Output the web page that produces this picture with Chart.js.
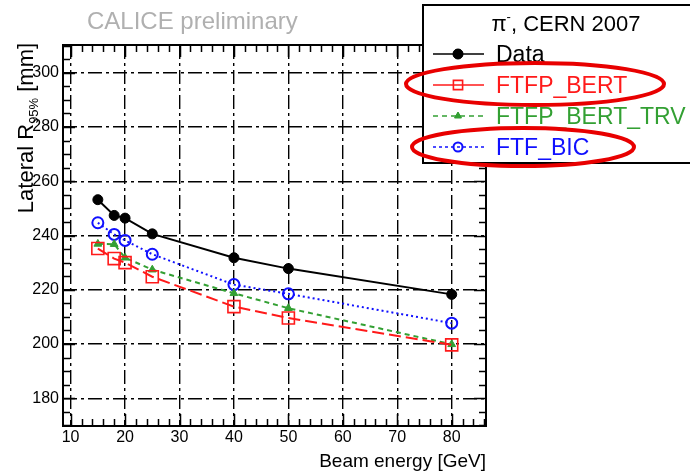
<!DOCTYPE html>
<html>
<head>
<meta charset="utf-8">
<script src="https://cdn.jsdelivr.net/npm/chart.js@4"></script>
<style>
    html, body { margin: 0; padding: 0; background: #fff; }
    #wrap { width: 690px; height: 472px; }
</style>
</head>
<body>
<div id="wrap"><canvas id="c" width="690" height="472"></canvas></div>
<script>
// Beam energies (GeV) and lateral R95% (mm) per sample
const energies = [15, 18, 20, 25, 40, 50, 80];
const dataVals = [253.2, 247.4, 246.4, 240.6, 231.8, 227.8, 218.3];
const ftfpBert = [235.2, 231.5, 230.0, 224.8, 213.8, 209.6, 199.7];
const ftfpBertTrv = [236.9, 236.8, 231.8, 227.4, 218.7, 213.2, 199.9];
const ftfBic = [244.7, 240.4, 238.2, 233.1, 221.9, 218.5, 207.7];

const seriesNames = ['Data', 'FTFP_BERT', 'FTFP_BERT_TRV', 'FTF_BIC'];
const xTicks = [10, 20, 30, 40, 50, 60, 70, 80];
const yTicks = [180, 200, 220, 240, 260, 280, 300];

const SANS = "'Liberation Sans', Arial, Helvetica, sans-serif";

function pts(vals) {
    return energies.map((e, i) => ({ x: e, y: vals[i] }));
}

// frame, inward ticks on all four sides, labels and legend box (ROOT look)
const rootFrame = {
    id: 'rootFrame',
    afterDatasetsDraw(chart) {
        const { ctx, chartArea: a, scales: { x, y } } = chart;
        ctx.save();
        ctx.strokeStyle = '#000';
        ctx.lineWidth = 1.5;
        ctx.beginPath();
        // x ticks every 2, longer on the 10s
        for (let v = 10; v <= x.max; v += 2) {
            const px = Math.round(x.getPixelForValue(v)) + 0.5;
            const len = v % 10 === 0 ? 12 : 7;
            ctx.moveTo(px, a.bottom); ctx.lineTo(px, a.bottom - len);
            ctx.moveTo(px, a.top); ctx.lineTo(px, a.top + len);
        }
        for (let v = 170; v <= y.max; v += 5) {
            const py = Math.round(y.getPixelForValue(v)) + 0.5;
            const len = v % 20 === 0 ? 12 : 7;
            ctx.moveTo(a.left, py); ctx.lineTo(a.left + len, py);
            ctx.moveTo(a.right, py); ctx.lineTo(a.right - len, py);
        }
        ctx.stroke();
        ctx.lineWidth = 2;
        ctx.strokeRect(a.left, a.top, a.right - a.left, a.bottom - a.top);

        // titles
        ctx.fillStyle = '#b0b0b0';
        ctx.font = '24px ' + SANS;
        ctx.textBaseline = 'alphabetic';
        ctx.textAlign = 'left';
        ctx.fillText('CALICE preliminary', 87, 29);

        ctx.fillStyle = '#000';
        ctx.font = '19px ' + SANS;
        ctx.textAlign = 'right';
        ctx.fillText('Beam energy [GeV]', a.right, 467);

        // y title with subscript
        ctx.save();
        ctx.translate(33, 128);
        ctx.rotate(-Math.PI / 2);
        const big = '22px ' + SANS, small = '13px ' + SANS;
        ctx.font = big;
        const w1 = ctx.measureText('Lateral R').width;
        const w3 = ctx.measureText(' [mm]').width;
        ctx.font = small;
        const w2 = ctx.measureText('95%').width;
        let tx = -(w1 + w2 + w3) / 2;
        ctx.textAlign = 'left';
        ctx.font = big; ctx.fillText('Lateral R', tx, 0); tx += w1;
        ctx.font = small; ctx.fillText('95%', tx, 5); tx += w2;
        ctx.font = big; ctx.fillText(' [mm]', tx, 0);
        ctx.restore();

        // legend box
        const bx = 423, by = 5, bw = 290, bh = 158;
        ctx.fillStyle = '#fff';
        ctx.fillRect(bx, by, bw, bh);
        ctx.lineWidth = 2;
        ctx.strokeRect(bx, by, bw, bh);

        ctx.fillStyle = '#000';
        ctx.textAlign = 'left';
        ctx.font = '22px ' + SANS;
        const tW = ctx.measureText('\u03c0').width;
        ctx.font = '13px ' + SANS;
        const sW = ctx.measureText('-').width;
        ctx.font = '22px ' + SANS;
        const rest = ', CERN 2007';
        const rW = ctx.measureText(rest).width;
        let lx = 566 - (tW + sW + rW) / 2;
        ctx.fillText('\u03c0', lx, 31); lx += tW;
        ctx.font = '13px ' + SANS; ctx.fillText('-', lx, 21); lx += sW;
        ctx.font = '22px ' + SANS; ctx.fillText(rest, lx, 31);

        const rows = [54, 85, 116, 147];
        chart.data.datasets.forEach((ds, i) => {
            const ly = rows[i];
            ctx.save();
            ctx.strokeStyle = ds.borderColor;
            ctx.lineWidth = 1.5;
            ctx.setLineDash(ds.legendDash || []);
            ctx.beginPath();
            ctx.moveTo(433, ly); ctx.lineTo(484, ly);
            ctx.stroke();
            ctx.setLineDash([]);
            ctx.lineWidth = ds.pointBorderWidth;
            ctx.fillStyle = ds.pointBackgroundColor;
            Chart.helpers.drawPoint(ctx, {
                pointStyle: ds.pointStyle, radius: ds.legendRadius, borderWidth: ds.pointBorderWidth
            }, 458, ly);
            if (ds.pointBackgroundColor !== 'rgba(0,0,0,0)') ctx.fill();
            ctx.restore();
            ctx.fillStyle = ds.borderColor;
            ctx.font = '23px ' + SANS;
            ctx.fillText(ds.label, 496, ly + 8);
        });

        // red highlight ellipses
        ctx.strokeStyle = '#e80000';
        ctx.lineWidth = 4;
        ctx.beginPath();
        ctx.ellipse(535, 84, 129, 21, 0, 0, Math.PI * 2);
        ctx.stroke();
        ctx.beginPath();
        ctx.ellipse(523, 147, 111, 19, 0, 0, Math.PI * 2);
        ctx.stroke();
        ctx.restore();
    }
};

new Chart(document.getElementById('c'), {
    type: 'scatter',
    data: {
        datasets: [
            {
                label: seriesNames[0],
                data: pts(dataVals),
                showLine: true,
                borderColor: '#000000',
                borderWidth: 2,
                pointStyle: 'circle',
                pointRadius: 5,
                legendRadius: 5,
                pointBackgroundColor: '#000000',
                pointBorderWidth: 1,
                order: 0
            },
            {
                label: seriesNames[1],
                data: pts(ftfpBert),
                showLine: true,
                borderColor: '#ff1a1a',
                borderWidth: 2,
                borderDash: [12, 5],
                pointStyle: 'rect',
                pointRadius: 8.5,
                legendRadius: 6.5,
                pointBackgroundColor: 'rgba(0,0,0,0)',
                pointBorderWidth: 1.6,
                order: 1
            },
            {
                label: seriesNames[2],
                data: pts(ftfpBertTrv),
                showLine: true,
                borderColor: '#33a033',
                borderWidth: 2,
                borderDash: [5, 4],
                legendDash: [5, 4],
                pointStyle: 'triangle',
                pointRadius: 4.5,
                legendRadius: 4,
                pointBackgroundColor: '#33a033',
                pointBorderWidth: 1,
                order: 2
            },
            {
                label: seriesNames[3],
                data: pts(ftfBic),
                showLine: true,
                borderColor: '#1010ff',
                borderWidth: 2,
                borderDash: [2, 3],
                legendDash: [3, 3],
                pointStyle: 'circle',
                pointRadius: 5.5,
                legendRadius: 4.5,
                pointBackgroundColor: 'rgba(0,0,0,0)',
                pointBorderWidth: 2,
                order: 3
            }
        ]
    },
    options: {
        responsive: false,
        animation: false,
        layout: { padding: { top: 45, right: 204, left: 0, bottom: 0 } },
        plugins: { legend: { display: false }, tooltip: { enabled: false } },
        scales: {
            x: {
                type: 'linear',
                min: 8.6,
                max: 86.3,
                afterBuildTicks: s => { s.ticks = xTicks.map(v => ({ value: v })); },
                afterFit: s => { s.height = 46; },
                ticks: { color: '#000', padding: 2, font: { family: SANS, size: 16 } },
                grid: { color: '#000', lineWidth: 1.4, drawTicks: false },
                border: { display: false, dash: [14, 4, 3, 4] }
            },
            y: {
                type: 'linear',
                min: 169.8,
                max: 310.2,
                afterBuildTicks: s => { s.ticks = yTicks.map(v => ({ value: v })); },
                afterFit: s => { s.width = 63; },
                ticks: { color: '#000', padding: 4, font: { family: SANS, size: 16 } },
                grid: { color: '#000', lineWidth: 1.4, drawTicks: false },
                border: { display: false, dash: [14, 4, 3, 4] }
            }
        }
    },
    plugins: [rootFrame]
});
</script>
</body>
</html>
